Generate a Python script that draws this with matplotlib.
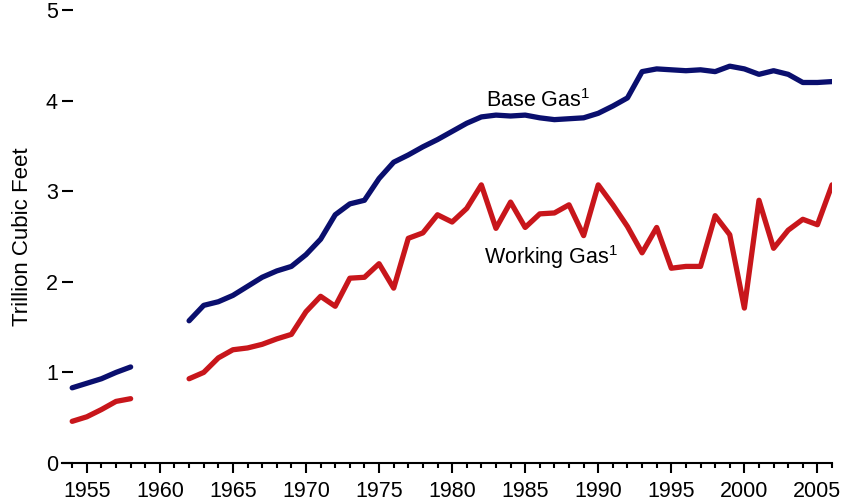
import numpy as np
import matplotlib
matplotlib.use("Agg")
import matplotlib.pyplot as plt
from matplotlib.ticker import MultipleLocator

plt.rcParams['font.family'] = ['Liberation Sans', 'DejaVu Sans']
plt.rcParams['mathtext.fontset'] = 'custom'
plt.rcParams['mathtext.rm'] = 'Liberation Sans'
plt.rcParams['mathtext.it'] = 'Liberation Sans'

years = list(range(1954, 2007))
nan = np.nan

# base gas, trillion cubic feet (1959-1961 missing)
base_gas = [0.83, 0.88, 0.93, 1.00, 1.06, nan, nan, nan,
            1.57, 1.74, 1.78, 1.85, 1.95, 2.05, 2.12, 2.17, 2.30, 2.47, 2.74, 2.86,
            2.90, 3.14, 3.32, 3.40, 3.49, 3.57, 3.66, 3.75, 3.82, 3.84, 3.83, 3.84,
            3.81, 3.79, 3.80, 3.81, 3.86, 3.94, 4.03, 4.32, 4.35, 4.34, 4.33, 4.34,
            4.32, 4.38, 4.35, 4.29, 4.33, 4.29, 4.20, 4.20, 4.21]

# working gas
working_gas = [0.46, 0.51, 0.59, 0.68, 0.71, nan, nan, nan,
               0.93, 1.00, 1.16, 1.25, 1.27, 1.31, 1.37, 1.42, 1.67, 1.84, 1.73, 2.04,
               2.05, 2.20, 1.93, 2.48, 2.54, 2.74, 2.66, 2.81, 3.07, 2.59, 2.88, 2.60,
               2.75, 2.76, 2.85, 2.51, 3.07, 2.85, 2.61, 2.32, 2.60, 2.15, 2.17, 2.17,
               2.73, 2.52, 1.71, 2.90, 2.37, 2.57, 2.69, 2.63, 3.07]

fig = plt.figure(figsize=(8.43, 5.03), dpi=100)
ax = fig.add_axes([0.0735, 0.0795, 0.9135, 0.9006])

ax.plot(years, base_gas, color='#0a0f6e', lw=3.8, solid_capstyle='round')
ax.plot(years, working_gas, color='#c8161b', lw=3.8, solid_capstyle='round')

ax.set_xlim(1953.3, 2006)
ax.set_ylim(0, 5)

for s in ['top', 'right', 'left']:
    ax.spines[s].set_visible(False)
ax.spines['bottom'].set_linewidth(1.5)

ax.xaxis.set_minor_locator(MultipleLocator(1))
ax.set_xticks(range(1955, 2006, 5))
ax.tick_params(axis='x', which='major', direction='out', length=7.2, width=1.5,
               labelsize=15.5, pad=6)
ax.tick_params(axis='x', which='minor', direction='out', length=3.8, width=1.5)

ax.set_yticks([0, 1, 2, 3, 4, 5])
ax.tick_params(axis='y', direction='in', length=8, width=1.5, labelsize=15.5, pad=3)
ax.set_ylabel('Trillion Cubic Feet', fontsize=16, labelpad=9)

ax.text(1982.35, 4.0, r'Base Gas$^{1}$', fontsize=15.5, va='center', ha='left')
ax.text(1982.2, 2.27, r'Working Gas$^{1}$', fontsize=15.5, va='center', ha='left')

fig.savefig('out.png', dpi=100)
